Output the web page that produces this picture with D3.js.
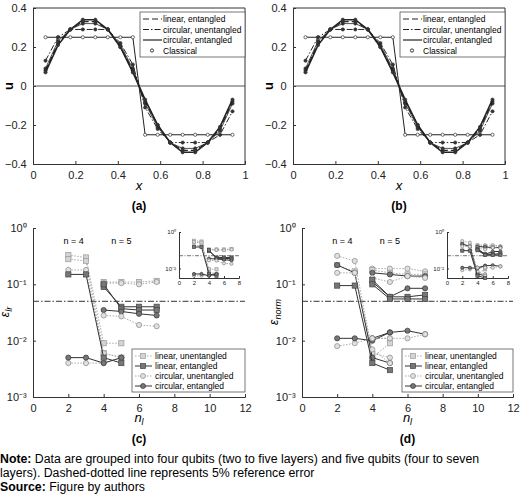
<!DOCTYPE html>
<html><head><meta charset="utf-8">
<script src="https://cdn.jsdelivr.net/npm/d3@7"></script>
<style>
body{margin:0;background:#fff}
text{font-family:"Liberation Sans",Arial,sans-serif}
</style></head>
<body><svg id="fig" width="520" height="496"></svg>
<script>
// ---- panels (a)/(b): solution u(x)
const xPts = [0.059,0.118,0.176,0.235,0.294,0.353,0.412,0.471,0.529,0.588,0.647,0.706,0.765,0.824,0.882,0.941];
const classical = [0.25,0.25,0.25,0.25,0.25,0.25,0.25,0.25,-0.25,-0.25,-0.25,-0.25,-0.25,-0.25,-0.25,-0.25];
const linEntU = [0.08,0.22,0.29,0.33,0.33,0.29,0.20,0.08,-0.08,-0.20,-0.29,-0.33,-0.33,-0.29,-0.22,-0.08];
const circUnentU = [0.13,0.25,0.29,0.29,0.29,0.29,0.22,0.11,-0.11,-0.22,-0.29,-0.29,-0.29,-0.29,-0.25,-0.13];
const circEntU = [0.07,0.21,0.29,0.34,0.34,0.29,0.20,0.07,-0.07,-0.20,-0.29,-0.34,-0.34,-0.29,-0.21,-0.07];
const extraU = [0.09,0.23,0.29,0.32,0.32,0.29,0.21,0.09,-0.09,-0.21,-0.29,-0.32,-0.32,-0.29,-0.23,-0.09];
const uTicks = [-0.4,-0.2,0,0.2,0.4];
const xTicks = [0,0.2,0.4,0.6,0.8,1];

// ---- panels (c)/(d): errors vs layers
const nlN4 = [2,3,4,5];
const nlN5 = [4,5,6,7];
// type: lu linear unentangled, le linear entangled, cu circular unentangled, ce circular entangled
const errC = [
  {type:'lu', x:nlN4, y:[0.33,0.30,0.009,0.009]},
  {type:'lu', x:nlN4, y:[0.28,0.26,0.006,0.005]},
  {type:'cu', x:nlN4, y:[0.18,0.18,0.006,0.005]},
  {type:'le', x:nlN4, y:[0.15,0.15,0.005,0.004]},
  {type:'cu', x:nlN4, y:[0.004,0.004,0.004,0.005]},
  {type:'ce', x:nlN4, y:[0.005,0.005,0.004,0.005]},
  {type:'lu', x:nlN5, y:[0.11,0.11,0.11,0.115]},
  {type:'cu', x:nlN5, y:[0.105,0.105,0.10,0.11]},
  {type:'le', x:nlN5, y:[0.09,0.04,0.04,0.04]},
  {type:'le', x:nlN5, y:[0.10,0.037,0.035,0.035]},
  {type:'ce', x:nlN5, y:[0.035,0.033,0.03,0.028]},
  {type:'cu', x:nlN5, y:[0.028,0.027,0.019,0.018]}
];
const errD = [
  {type:'cu', x:nlN4, y:[0.32,0.26,0.006,0.005]},
  {type:'lu', x:nlN4, y:[0.22,0.17,0.005,0.009]},
  {type:'ce', x:nlN4, y:[0.22,0.16,0.005,0.004]},
  {type:'cu', x:nlN4, y:[0.16,0.16,0.007,0.004]},
  {type:'le', x:nlN4, y:[0.095,0.095,0.004,0.003]},
  {type:'cu', x:nlN4, y:[0.008,0.009,0.011,0.011]},
  {type:'ce', x:nlN4, y:[0.011,0.011,0.010,0.014]},
  {type:'cu', x:nlN5, y:[0.19,0.19,0.19,0.17]},
  {type:'lu', x:nlN5, y:[0.18,0.16,0.15,0.15]},
  {type:'ce', x:nlN5, y:[0.16,0.15,0.14,0.14]},
  {type:'cu', x:nlN5, y:[0.13,0.11,0.14,0.13]},
  {type:'ce', x:nlN5, y:[0.11,0.06,0.085,0.085]},
  {type:'le', x:nlN5, y:[0.12,0.06,0.06,0.065]},
  {type:'le', x:nlN5, y:[0.10,0.055,0.055,0.055]},
  {type:'ce', x:nlN5, y:[0.011,0.014,0.015,0.013]},
  {type:'cu', x:nlN5, y:[0.011,0.011,0.011,0.013]}
];
const refError = 0.05;
const nlTicks = [0,2,4,6,8,10,12];
const insetTicks = [0,2,4,6,8];

const legendAB = [
  {label:'linear, entangled', dash:'6,3'},
  {label:'circular, unentangled', dash:'6,2,1.5,2'},
  {label:'circular, entangled', dash:null},
  {label:'Classical', dash:'marker'}
];
const legendCD = [
  {type:'lu', label:'linear, unentangled'},
  {type:'le', label:'linear, entangled'},
  {type:'cu', label:'circular, unentangled'},
  {type:'ce', label:'circular, entangled'}
];
const styles = {
  lu:{shape:'sq', fill:'#d4d4d4', stroke:'#999', line:'#aaa', dash:'1.5,1.5'},
  le:{shape:'sq', fill:'#777', stroke:'#444', line:'#333', dash:null},
  cu:{shape:'ci', fill:'#e0e0e0', stroke:'#888', line:'#aaa', dash:'1.5,1.5'},
  ce:{shape:'ci', fill:'#777', stroke:'#333', line:'#333', dash:null}
};

const svg = d3.select('#fig');

function styleAxis(g){
  g.selectAll('text').attr('font-size',11).attr('fill','#222');
  g.selectAll('path,line').attr('stroke','#333');
}

function drawU(ox, tag){
  const x = d3.scaleLinear().domain([0,1]).range([ox+33, ox+245]);
  const y = d3.scaleLinear().domain([-0.4,0.4]).range([164,8]);
  const g = svg.append('g');
  g.append('g').attr('transform','translate(0,164)')
    .call(d3.axisBottom(x).tickValues(xTicks).tickFormat(d3.format('')).tickSize(-3)).call(styleAxis)
    .selectAll('text').attr('dy','1.1em');
  g.append('g').attr('transform',`translate(${ox+33},0)`)
    .call(d3.axisLeft(y).tickValues(uTicks).tickFormat(d=>d===0?'0':d3.format('.1f')(d).replace('-','\u2212')).tickSize(-3)).call(styleAxis)
    .selectAll('text').attr('dx','-0.3em');
  g.append('line').attr('x1',x(0)).attr('x2',x(1)).attr('y1',y(0)).attr('y2',y(0)).attr('stroke','#555');
  g.append('line').attr('x1',x(0)).attr('x2',x(1)).attr('y1',y(0.4)).attr('y2',y(0.4)).attr('stroke','#333');
  g.append('line').attr('x1',x(1)).attr('x2',x(1)).attr('y1',y(0.4)).attr('y2',y(-0.4)).attr('stroke','#333');
  const line = d3.line().x(d=>x(d[0])).y(d=>y(d[1]));
  const curves = [
    {v:classical, dash:null, w:1},
    {v:circUnentU, dash:'6,2,1.5,2', w:1},
    {v:extraU, dash:null, w:0.8},
    {v:linEntU, dash:'6,3', w:1.2},
    {v:circEntU, dash:null, w:1.6}
  ];
  curves.forEach(c=>{
    const pts = xPts.map((xv,i)=>[xv,c.v[i]]);
    g.append('path').attr('d',line(pts)).attr('fill','none').attr('stroke','#222')
      .attr('stroke-width',c.w).attr('stroke-dasharray',c.dash);
    g.selectAll(null).data(pts).enter().append('circle')
      .attr('cx',d=>x(d[0])).attr('cy',d=>y(d[1])).attr('r',1.6)
      .attr('fill', c.v===classical?'#fff':'#333').attr('stroke','#333').attr('stroke-width',0.7);
  });
  // legend
  const lg = g.append('g').attr('transform',`translate(${ox+140},12)`);
  lg.append('rect').attr('width',105).attr('height',45).attr('fill','#fff').attr('stroke','#555').attr('stroke-width',0.8);
  legendAB.forEach((l,i)=>{
    const yy = 7+i*10.5;
    if(l.dash==='marker'){
      lg.append('circle').attr('cx',12).attr('cy',yy).attr('r',1.6).attr('fill','#fff').attr('stroke','#333');
    } else {
      lg.append('line').attr('x1',3).attr('x2',22).attr('y1',yy).attr('y2',yy)
        .attr('stroke','#222').attr('stroke-width',1.2).attr('stroke-dasharray',l.dash);
    }
    lg.append('text').attr('x',23).attr('y',yy+3).attr('font-size',8.5).text(l.label);
  });
  svg.append('text').attr('x',ox+13).attr('y',86).attr('font-family','Liberation Serif').attr('font-weight','bold')
    .attr('font-size',13).attr('text-anchor','middle').attr('transform',`rotate(-90,${ox+13},86)`).text('u');
  svg.append('text').attr('x',ox+139).attr('y',190).attr('font-family','Liberation Serif').attr('font-style','italic')
    .attr('font-size',13).attr('text-anchor','middle').text('x');
  svg.append('text').attr('x',ox+139).attr('y',210).attr('font-family','Liberation Serif').attr('font-weight','bold')
    .attr('font-size',12).attr('text-anchor','middle').text(tag);
}

function marker(g, type, cx, cy, r){
  const s = styles[type];
  if(s.shape==='sq'){
    g.append('rect').attr('x',cx-r).attr('y',cy-r).attr('width',2*r).attr('height',2*r)
      .attr('fill',s.fill).attr('stroke',s.stroke).attr('stroke-width',0.7);
  } else {
    g.append('circle').attr('cx',cx).attr('cy',cy).attr('r',r)
      .attr('fill',s.fill).attr('stroke',s.stroke).attr('stroke-width',0.7);
  }
}

function drawSeries(g, data, x, y, r){
  const line = d3.line().x(d=>x(d[0])).y(d=>y(d[1]));
  data.forEach(s=>{
    const st = styles[s.type];
    const pts = s.x.map((xv,i)=>[xv,s.y[i]]);
    g.append('path').attr('d',line(pts)).attr('fill','none').attr('stroke',st.line)
      .attr('stroke-width',1).attr('stroke-dasharray',st.dash);
    pts.forEach(p=>marker(g, s.type, x(p[0]), y(p[1]), r));
  });
}

const sup = {'0':'\u2070','1':'\u00b9','2':'\u00b2','3':'\u00b3','-':'\u207b'};
const pow10 = d=>'10'+String(Math.round(Math.log10(d))).split('').map(c=>sup[c]).join('');

function drawErr(x0, x1, data, ylab, tag, inset, leg){
  const x = d3.scaleLinear().domain([0,12]).range([x0,x1]);
  const y = d3.scaleLog().domain([1e-3,1]).range([397,228]);
  const g = svg.append('g');
  g.append('g').attr('transform','translate(0,397)')
    .call(d3.axisBottom(x).tickValues(nlTicks).tickSize(-3)).call(styleAxis)
    .selectAll('text').attr('dy','1.1em');
  g.append('g').attr('transform',`translate(${x0},0)`)
    .call(d3.axisLeft(y).tickValues([1e-3,1e-2,1e-1,1]).tickFormat(pow10).tickSize(-3)).call(styleAxis)
    .selectAll('text').attr('dx','-0.3em');
  g.append('line').attr('x1',x0).attr('x2',x1).attr('y1',y(refError)).attr('y2',y(refError))
    .attr('stroke','#333').attr('stroke-dasharray','6,2,1.5,2');
  drawSeries(g, data, x, y, 2.6);
  g.append('text').attr('x',x(2.3)).attr('y',244).attr('font-size',9).attr('text-anchor','middle').text('n = 4');
  g.append('text').attr('x',x(5)).attr('y',244).attr('font-size',9).attr('text-anchor','middle').text('n = 5');
  // inset
  const ix = d3.scaleLinear().domain([0,8]).range([inset[0],inset[1]]);
  const iy = d3.scaleLog().domain([3e-3,1]).range([278,232]);
  const ig = g.append('g');
  ig.append('rect').attr('x',inset[0]).attr('y',232).attr('width',inset[1]-inset[0]).attr('height',46).attr('fill','#fff');
  ig.append('g').attr('transform','translate(0,278)')
    .call(d3.axisBottom(ix).tickValues(insetTicks).tickSize(-2)).call(styleAxis)
    .selectAll('text').attr('font-size',6).attr('dy','0.6em');
  ig.append('g').attr('transform',`translate(${inset[0]},0)`)
    .call(d3.axisLeft(iy).tickValues([1e-2,1]).tickFormat(pow10).tickSize(-2)).call(styleAxis)
    .selectAll('text').attr('font-size',6);
  ig.append('line').attr('x1',inset[0]).attr('x2',inset[1]).attr('y1',iy(refError)).attr('y2',iy(refError))
    .attr('stroke','#333').attr('stroke-width',0.7).attr('stroke-dasharray','4,1.5,1,1.5');
  drawSeries(ig, data, ix, iy, 1.6);
  // legend
  const lg = g.append('g').attr('transform',`translate(${leg},349)`);
  lg.append('rect').attr('width',x1-leg).attr('height',43).attr('fill','#fff').attr('stroke','#555').attr('stroke-width',0.8);
  legendCD.forEach((l,i)=>{
    const yy = 7+i*10;
    const st = styles[l.type];
    lg.append('line').attr('x1',3).attr('x2',20).attr('y1',yy).attr('y2',yy)
      .attr('stroke',st.line).attr('stroke-dasharray',st.dash);
    marker(lg, l.type, 11, yy, 2.5);
    lg.append('text').attr('x',23).attr('y',yy+3).attr('font-size',8.5).text(l.label);
  });
  const yl = svg.append('text').attr('transform',`translate(${x0-24},312) rotate(-90)`)
    .attr('font-family','Liberation Serif').attr('font-style','italic').attr('font-size',12).attr('text-anchor','middle');
  yl.append('tspan').text('\u03b5');
  yl.append('tspan').attr('font-size',9).attr('dy',3).text(ylab);
  const xl = svg.append('text').attr('x',(x0+x1)/2).attr('y',422).attr('font-family','Liberation Serif')
    .attr('font-style','italic').attr('font-size',13).attr('text-anchor','middle');
  xl.append('tspan').text('n');
  xl.append('tspan').attr('font-size',9).attr('dy',3).text('l');
  svg.append('text').attr('x',(x0+x1)/2).attr('y',443).attr('font-family','Liberation Serif').attr('font-weight','bold')
    .attr('font-size',12).attr('text-anchor','middle').text(tag);
}

drawU(0,'(a)');
drawU(260,'(b)');
drawErr(33,245,errC,'lr','(c)',[179,239],132);
drawErr(302,513,errD,'norm','(d)',[447,508],402);

const note = [
  [{b:true,t:'Note:'},{t:' Data are grouped into four qubits (two to five layers) and five qubits (four to seven'}],
  [{t:'layers). Dashed-dotted line represents 5% reference error'}],
  [{b:true,t:'Source:'},{t:' Figure by authors'}]
];
note.forEach((ln,i)=>{
  const t = svg.append('text').attr('x',0).attr('y',463+i*14).attr('font-family','Liberation Serif').attr('font-size',12.3);
  ln.forEach(p=>t.append('tspan').attr('font-weight',p.b?'bold':null).text(p.t));
});
</script></body></html>
